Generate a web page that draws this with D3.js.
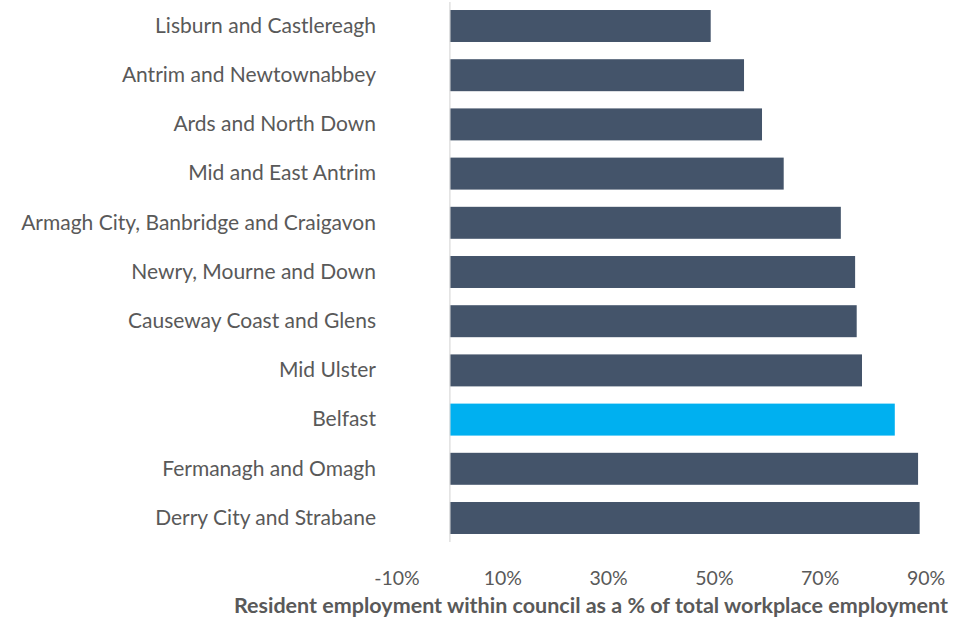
<html>
<head>
<script src="https://d3js.org/d3.v7.min.js"></script>
<style>
body { margin: 0; background: #fff; }
text { font-family: Lato, "Noto Sans", sans-serif; fill: #595959; }
</style>
</head>
<body>
<script>
var councils = ["Lisburn and Castlereagh", "Antrim and Newtownabbey", "Ards and North Down",
    "Mid and East Antrim", "Armagh City, Banbridge and Craigavon", "Newry, Mourne and Down",
    "Causeway Coast and Glens", "Mid Ulster", "Belfast", "Fermanagh and Omagh", "Derry City and Strabane"];
var shares = [49.3, 55.6, 59.0, 63.1, 73.9, 76.6, 76.9, 77.9, 84.1, 88.5, 88.8];
var tickValues = [-10, 10, 30, 50, 70, 90];
var highlight = "Belfast";

var svg = d3.select("body").append("svg")
    .attr("width", 957)
    .attr("height", 618);

var x = d3.scaleLinear().domain([-10, 90]).range([397, 926]);
var y = d3.scaleBand().domain(councils).range([1.4, 542.6]).paddingInner(0.35).paddingOuter(0.175);

// bars
svg.selectAll("rect.bar").data(councils).enter()
    .append("rect")
    .attr("class", "bar")
    .attr("x", x(0))
    .attr("y", d => y(d))
    .attr("width", (d, i) => x(shares[i]) - x(0))
    .attr("height", y.bandwidth())
    .style("fill", d => d == highlight ? "#00B0F0" : "#44546A");

// vertical axis line at 0
svg.append("line")
    .attr("x1", x(0)).attr("x2", x(0))
    .attr("y1", 2).attr("y2", 542)
    .style("stroke", "#d9d9d9")
    .style("stroke-width", 1.2);

// category labels
svg.selectAll("text.cat").data(councils).enter()
    .append("text")
    .attr("class", "cat")
    .attr("x", 376)
    .attr("y", d => y(d) + y.bandwidth() / 2 - 0.5)
    .attr("dy", "0.35em")
    .attr("text-anchor", "end")
    .style("font-size", "21px")
    .text(d => d);

// x tick labels
svg.selectAll("text.tick").data(tickValues).enter()
    .append("text")
    .attr("class", "tick")
    .attr("x", d => x(d))
    .attr("y", 585)
    .attr("text-anchor", "middle")
    .style("font-size", "19.5px")
    .text(d => d + "%");

svg.append("text")
    .attr("x", 591)
    .attr("y", 613)
    .attr("text-anchor", "middle")
    .style("font-size", "21.5px")
    .style("font-weight", "bold")
    .text("Resident employment within council as a % of total workplace employment");
</script>
</body>
</html>
